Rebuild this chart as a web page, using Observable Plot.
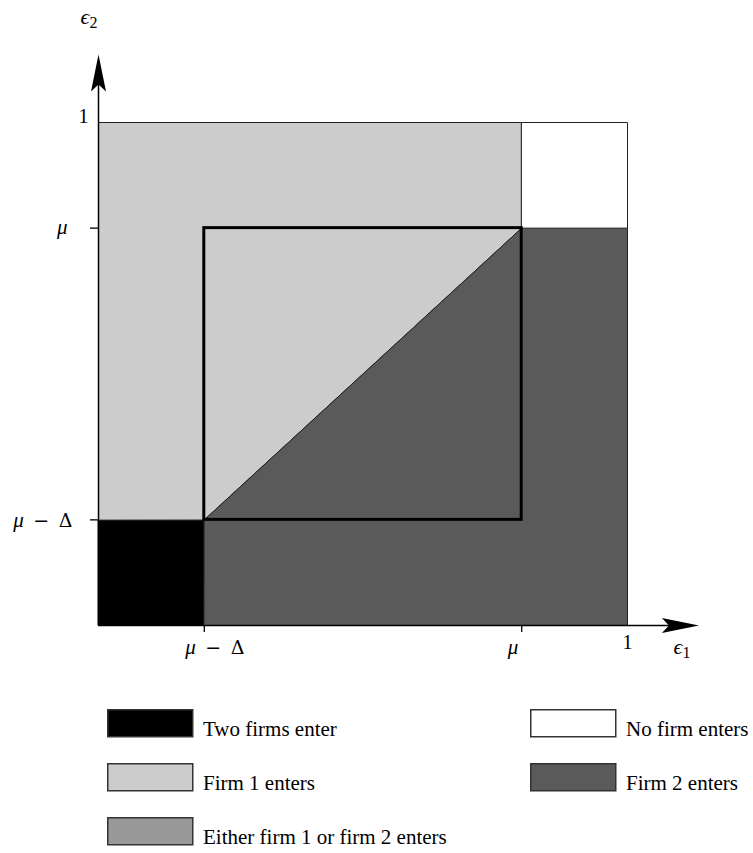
<!DOCTYPE html>
<html>
<head>
<meta charset="utf-8">
<script src="https://cdn.jsdelivr.net/npm/d3@7"></script>
<script src="https://cdn.jsdelivr.net/npm/@observablehq/plot@0.6"></script>
<style>
  body { margin: 0; background: #fff; }
  #wrap { position: relative; width: 753px; height: 853px; background: #fff; }
  #wrap svg { position: absolute; left: 0; display: block; }
</style>
</head>
<body>
<div id="wrap"></div>
<script>
// ---- data ----
const xMuMinusDelta = 0.2;
const xMu = 0.8;
const yMuMinusDelta = 0.21;
const yMu = 0.79;
const axisMax = 1.135;
const xTickValues = [0.2, 0.8];
const yTickValues = [0.21, 0.79];
const tickLabels = ["μ\u2002−\u2002Δ", "μ"];
const oneLabel = "1";
const xAxisLabel = "ϵ1";
const yAxisLabel = "ϵ2";

const regionNames = ["Two firms enter", "Firm 1 enters", "Firm 2 enters", "No firm enters"];
const regionColors = ["#000000", "#cccccc", "#5a5a5a", "#ffffff"];
const bothX = [0, 0.2, 0.2, 0];
const bothY = [0, 0, 0.21, 0.21];
const firm1X = [0, 0, 0.8, 0.8, 0.2];
const firm1Y = [0.21, 1, 1, 0.79, 0.21];
const firm2X = [0.2, 1, 1, 0.8, 0.2];
const firm2Y = [0, 0, 0.79, 0.79, 0.21];
const noneX = [0.8, 1, 1, 0.8];
const noneY = [0.79, 0.79, 1, 1];

const legendLabels = ["Two firms enter", "Firm 1 enters", "Either firm 1 or firm 2 enters", "No firm enters", "Firm 2 enters"];
const legendColors = ["#000000", "#cccccc", "#999999", "#ffffff", "#5a5a5a"];

// ---- build ----
const polys = [[bothX, bothY], [firm1X, firm1Y], [firm2X, firm2Y], [noneX, noneY]];
const regionMarks = polys.map(([xs, ys], k) =>
  Plot.line(xs.map((x, i) => ({x, y: ys[i]})), {
    x: "x", y: "y", curve: "linear-closed",
    fill: regionColors[k], stroke: "#222", strokeWidth: 1
  })
);

const stealth = {
  draw(ctx) {
    ctx.moveTo(0, 0);
    ctx.lineTo(-7.5, 37);
    ctx.lineTo(0, 30);
    ctx.lineTo(7.5, 37);
    ctx.closePath();
  }
};

const font = "Liberation Serif, Times New Roman, serif";

const plot = Plot.plot({
  width: 753,
  height: 660,
  marginLeft: 98,
  marginRight: 126,
  marginTop: 122,
  marginBottom: 35,
  x: {domain: [0, 1], axis: null},
  y: {domain: [0, 1], axis: null},
  style: {fontFamily: font, fontSize: "20px", background: "white", color: "black"},
  marks: [
    ...regionMarks,
    Plot.rect([{x1: xMuMinusDelta, x2: xMu, y1: yMuMinusDelta, y2: yMu}], {
      x1: "x1", x2: "x2", y1: "y1", y2: "y2", fill: "none", stroke: "black", strokeWidth: 3
    }),
    Plot.ruleY([0], {x1: 0, x2: axisMax - 0.04, stroke: "black", strokeWidth: 1.5}),
    Plot.ruleX([0], {y1: 0, y2: axisMax - 0.04, stroke: "black", strokeWidth: 1.5}),
    Plot.dot([{x: axisMax, y: 0, r: 90}, {x: 0, y: axisMax, r: 0}], {
      x: "x", y: "y", rotate: "r", symbol: stealth, fill: "black", stroke: "none"
    }),
    Plot.axisX({ticks: xTickValues, tickSize: 7, tickFormat: () => "", label: null, anchor: "bottom", strokeWidth: 1.3}),
    Plot.axisY({ticks: yTickValues, tickSize: 8, tickFormat: () => "", label: null, anchor: "left", strokeWidth: 1.3}),
    // x tick labels
    Plot.text([xTickValues[0]], {x: d => d, y: () => 0, text: () => tickLabels[0], textAnchor: "start", dx: -19, dy: 22, fontSize: 21}),
    Plot.text([xTickValues[1]], {x: d => d, y: () => 0, text: () => tickLabels[1], textAnchor: "start", dx: -14, dy: 22, fontSize: 21}),
    Plot.text([1], {x: d => d, y: () => 0, text: () => oneLabel, dy: 17, fontSize: 20}),
    Plot.text([1], {x: d => d, y: () => 0, text: () => xAxisLabel, textAnchor: "start", dx: 46, dy: 21, fontSize: 22}),
    // y tick labels
    Plot.text([yTickValues[0]], {x: () => 0, y: d => d, text: () => tickLabels[0], textAnchor: "end", dx: -26, dy: 0, fontSize: 21}),
    Plot.text([yTickValues[1]], {x: () => 0, y: d => d, text: () => tickLabels[1], textAnchor: "end", dx: -31, dy: -1, fontSize: 21}),
    Plot.text([1], {x: () => 0, y: d => d, text: () => oneLabel, textAnchor: "end", dx: -10, dy: -6, fontSize: 20}),
    Plot.text([1], {x: () => 0, y: d => d, text: () => yAxisLabel, textAnchor: "start", dx: -18, dy: -106, fontSize: 22})
  ]
});

// italic math glyphs, wider minus, subscripts
d3.select(plot).selectAll("text").each(function () {
  const s = this.textContent;
  if (!/[μϵ]/.test(s)) return;
  const t = d3.select(this);
  t.text(null);
  let prevGreek = false;
  for (const ch of s) {
    if (ch === "μ" || ch === "ϵ") {
      t.append("tspan").attr("font-style", "italic").text(ch);
      prevGreek = ch === "ϵ";
    } else if (prevGreek && /[0-9]/.test(ch)) {
      t.append("tspan").attr("font-size", 16).attr("dy", 4).text(ch);
      prevGreek = false;
    } else if (ch === "−" || ch === "Δ" || ch === "\u2002") {
      t.append("tspan").attr("font-family", "DejaVu Serif").attr("font-size", 19).text(ch);
      prevGreek = false;
    } else {
      t.append("tspan").text(ch);
      prevGreek = false;
    }
  }
});

plot.style.top = "0px";
const wrap = document.getElementById("wrap");
wrap.appendChild(plot);

// ---- legend ----
const colX = [107, 530];
const rowY = [709, 763, 817];
const place = [[0, 0], [0, 1], [0, 2], [1, 0], [1, 1]];
const leg = d3.create("svg").attr("width", 753).attr("height", 853).style("top", "0px").style("pointer-events", "none");
legendLabels.forEach((lab, i) => {
  const [c, r] = place[i];
  const g = leg.append("g").attr("transform", `translate(${colX[c]},${rowY[r]})`);
  g.append("rect").attr("x", 0.75).attr("y", 0.75).attr("width", 85).attr("height", 27)
    .attr("fill", legendColors[i]).attr("stroke", "#333").attr("stroke-width", 1.5);
  g.append("text").attr("x", 96).attr("y", 27).attr("font-family", font).attr("font-size", 21).text(lab);
});
wrap.appendChild(leg.node());
</script>
</body>
</html>
